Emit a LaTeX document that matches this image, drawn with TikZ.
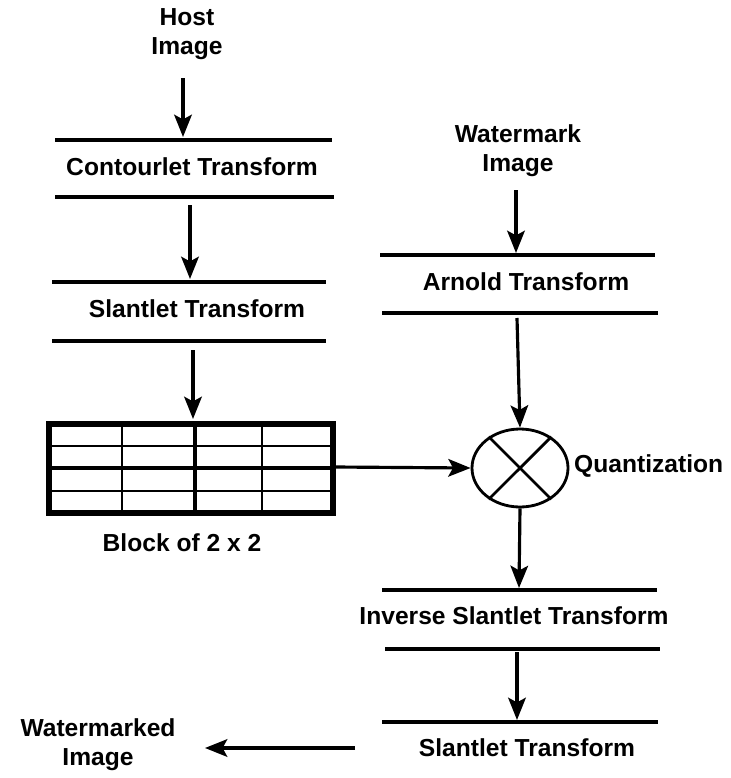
\documentclass[tikz,border=0pt]{standalone}
\usepackage{fontspec}
\setmainfont{Liberation Sans}
\usetikzlibrary{arrows.meta,calc,positioning,shapes}

\begin{document}
\begin{tikzpicture}[x=0.03cm,y=-0.03cm,
		lbl/.style={font=\fontsize{21}{25}\selectfont\bfseries, align=center, inner sep=0pt},
		bar/.style={line width=2.8pt},
		flow/.style={->, >={Stealth[length=19pt,width=15pt,inset=4pt]}, line width=2.7pt},
		gridthin/.style={line width=2.2pt},
		gridthick/.style={line width=4.2pt}]
		\useasboundingbox (0,0) rectangle (731,778);
		%% host image branch
		\node[lbl] (host) at (187,34) {Host\\Image};
		\coordinate (host-s) at (183,78);
		\coordinate (ct-a) at (183,137);
		\draw[bar] (55,140)--(332,140);
		\node[lbl] (ct) at (192,167) {Contourlet Transform};
		\draw[bar] (55,197)--(334,197);
		\coordinate (ct-b) at (190,205);
		\coordinate (sl-a) at (190,279);
		\draw[bar] (52,282)--(326,282);
		\node[lbl] (sl) at (197,309) {Slantlet Transform};
		\draw[bar] (52,341)--(326,341);
		\coordinate (sl-b) at (193,350);
		%% block grid
		\coordinate (blk-nw) at (49,424);
		\coordinate (blk-se) at (333,513);
		\draw[gridthin] (122,424)--(122,513) (262,424)--(262,513)
			(49,446)--(333,446) (49,491)--(333,491);
		\draw[gridthick] (195,424)--(195,513) (49,468)--(333,468);
		\draw[line width=5pt] (blk-nw) rectangle (blk-se);
		\coordinate (blk-top) at (193,419);
		\coordinate (blk-e) at (335,467);
		\node[lbl] (blk) at (182,543) {Block of 2 x 2};
		%% watermark branch
		\node[lbl] (wm) at (518,151) {Watermark\\Image};
		\coordinate (wm-s) at (516,190);
		\coordinate (ar-a) at (516,253);
		\draw[bar] (380,255)--(655,255);
		\node[lbl] (ar) at (526,282) {Arnold Transform};
		\draw[bar] (382,313)--(658,313);
		\coordinate (ar-b) at (517,318);
		%% quantization
		\node[ellipse, draw, line width=2.4pt, inner sep=0pt,
			minimum width=2.88cm, minimum height=2.34cm] (q) at (520,468) {};
		\draw[line width=2.4pt] (q.135)--(q.-45) (q.45)--(q.-135);
		\node[lbl, anchor=west] (qlbl) at (574,466) {Quantization};
		%% output branch
		\coordinate (is-a) at (519,588);
		\draw[bar] (382,590)--(657,590);
		\node[lbl] (is) at (514,616) {Inverse Slantlet Transform};
		\draw[bar] (385,649)--(660,649);
		\coordinate (is-b) at (517,652);
		\coordinate (so-a) at (517,720);
		\draw[bar] (382,722)--(658,722);
		\node[lbl] (so) at (527,748) {Slantlet Transform};
		\coordinate (so-w) at (355,748);
		\coordinate (out-e) at (205,748);
		\node[lbl] (out) at (98,745) {Watermarked\\Image};
		%%
		\draw[flow] (host-s)--(ct-a);
		\draw[flow] (ct-b)--(sl-a);
		\draw[flow] (sl-b)--(blk-top);
		\draw[flow] (blk-e)--(q.west);
		\draw[flow] (wm-s)--(ar-a);
		\draw[flow] (ar-b)--(q.north);
		\draw[flow] (q.south)--(is-a);
		\draw[flow] (is-b)--(so-a);
		\draw[flow] (so-w)--(out-e);
	\end{tikzpicture}
\end{document}
